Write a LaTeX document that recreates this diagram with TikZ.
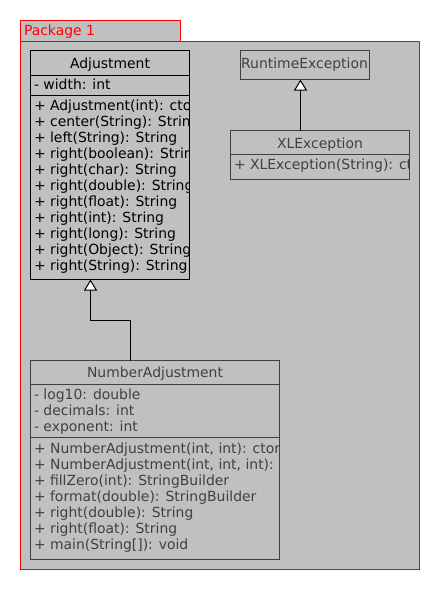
\documentclass[tikz,border=0pt]{standalone}
\usepackage{fontspec}
\setmainfont{DejaVu Sans}
\usetikzlibrary{arrows.meta,fit,calc}
\definecolor{pkgfill}{HTML}{C0C0C0}
\definecolor{dgray}{HTML}{404040}
\definecolor{pkgred}{HTML}{FF0000}
\newcommand\umlrow[4]{\node[txt] (#1) at (#2,#3) {#4};}
\begin{document}
\begin{tikzpicture}[x=0.75pt,y=-0.75pt,
  font=\fontsize{10.45pt}{12pt}\selectfont,
  pkg/.style={draw=pkgred,fill=pkgfill,line width=0.75pt,inner sep=0pt,outer sep=0pt},
  blackbox/.style={draw=black,line width=0.75pt,inner sep=0pt,outer sep=0pt},
  graybox/.style={draw=dgray,line width=0.75pt,inner sep=0pt,outer sep=0pt},
  txt/.style={anchor=base west,inner sep=0pt,outer sep=0pt},
  ttl/.style={anchor=base,inner sep=0pt,outer sep=0pt},
  inh/.style={draw=black,line width=0.75pt,-{Triangle[length=8.25pt,width=9.75pt,fill=white]}},
]
\useasboundingbox (0,0) rectangle (440,590);
% package
\node[pkg, fit={(20.5,41.5) (419.5,569.5)}] (pbody) {};
\node[pkg, fit={(20.5,20.5) (180.5,41.5)}] (ptab) {};
\node[txt, text=pkgred] (plabel) at (24,35.7) {Package 1};

% Adjustment
\node[blackbox, fit={(30.5,50.5) (189.5,279.5)}] (adj) {};
\draw[black,line width=0.75pt] (30.5,75.5) -- (189.5,75.5) (30.5,95.5) -- (189.5,95.5);
\begin{scope}
\clip (31,51) rectangle (189,279);
\node[ttl] (adjt) at (110,68.5) {Adjustment};
\umlrow{a0}{34}{89}{- width: int}
\umlrow{a1}{34}{110}{+ Adjustment(int): ctor}
\umlrow{a2}{34}{126}{+ center(String): String}
\umlrow{a3}{34}{142}{+ left(String): String}
\umlrow{a4}{34}{158}{+ right(boolean): String}
\umlrow{a5}{34}{174}{+ right(char): String}
\umlrow{a6}{34}{190}{+ right(double): String}
\umlrow{a7}{34}{206}{+ right(float): String}
\umlrow{a8}{34}{222}{+ right(int): String}
\umlrow{a9}{34}{238}{+ right(long): String}
\umlrow{a10}{34}{254}{+ right(Object): String}
\umlrow{a11}{34}{270}{+ right(String): String}
\end{scope}

% NumberAdjustment
\node[graybox, fit={(30.5,360.5) (279.5,559.5)}] (na) {};
\draw[dgray,line width=0.75pt] (30.5,384.5) -- (279.5,384.5) (30.5,437.5) -- (279.5,437.5);
\begin{scope}[text=dgray]
\clip (31,361) rectangle (279,559);
\node[ttl] (nat) at (155,377.7) {NumberAdjustment};
\umlrow{n1}{34}{399}{- log10: double}
\umlrow{n2}{34}{415}{- decimals: int}
\umlrow{n3}{34}{431}{- exponent: int}
\umlrow{n4}{34}{453}{+ NumberAdjustment(int, int): ctor}
\umlrow{n5}{34}{469}{+ NumberAdjustment(int, int, int): ctor}
\umlrow{n6}{34}{485}{+ fillZero(int): StringBuilder}
\umlrow{n7}{34}{501}{+ format(double): StringBuilder}
\umlrow{n8}{34}{517}{+ right(double): String}
\umlrow{n9}{34}{533}{+ right(float): String}
\umlrow{n10}{34}{549}{+ main(String[]): void}
\end{scope}

% RuntimeException
\node[graybox, fit={(240.5,50.5) (369.5,79.5)}] (rte) {};
\node[ttl, text=dgray] (rtet) at (304.5,68.3) {RuntimeException};

% XLException
\node[graybox, fit={(230.5,130.5) (409.5,179.5)}] (xle) {};
\draw[dgray,line width=0.75pt] (230.5,154.5) -- (409.5,154.5);
\begin{scope}[text=dgray]
\clip (231,131) rectangle (409,179);
\node[ttl] (xlet) at (320,148.3) {XLException};
\umlrow{x1}{234}{169}{+ XLException(String): ctor}
\end{scope}

% inheritance
\draw[inh] ($(na.north west)+(100,0)$) |- ($(adj.south west)+(60,41)$) -- ($(adj.south west)+(60,0)$);
\draw[inh] ($(xle.north west)+(70,0)$) -- ($(rte.south west)+(60,0)$);
\end{tikzpicture}
\end{document}
